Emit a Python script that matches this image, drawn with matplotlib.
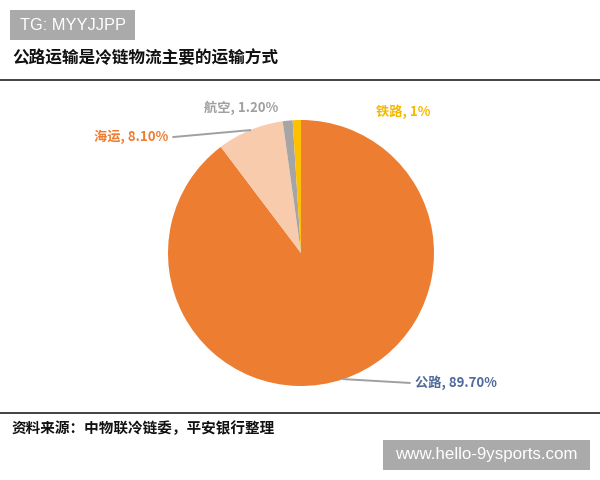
import matplotlib.pyplot as plt
from matplotlib.patches import Rectangle
import numpy as np

plt.rcParams['font.family'] = ['Noto Sans CJK SC', 'DejaVu Sans']

categories = ['公路', '海运', '航空', '铁路']
shares = [89.7, 8.1, 1.2, 1.0]
share_labels = ['89.70%', '8.10%', '1.20%', '1%']
colors = ['#ED7D31', '#F8CBAD', '#A5A5A5', '#FFC000']
label_colors = ['#4E6A9A', '#ED7D31', '#A0A0A0', '#F5B800']

W, H = 600, 480
fig = plt.figure(figsize=(6, 4.8), dpi=100)
fig.patch.set_facecolor('white')


def px_box(x0, y0, x1, y1, text, size):
    fig.add_artist(Rectangle((x0 / W, 1 - y1 / H), (x1 - x0) / W, (y1 - y0) / H,
                             transform=fig.transFigure, fc='#AAAAAA', ec='none'))
    fig.text((x0 + x1) / 2 / W, 1 - (y0 + y1) / 2 / H, text, fontsize=size, color='white',
             family='Liberation Sans', ha='center', va='center')


# header / footer
px_box(10, 10, 135, 40, 'TG: MYYJJPP', 11.8)
fig.text(0.02, 0.88, '公路运输是冷链物流主要的运输方式', fontsize=12, fontweight='bold',
         va='center', ha='left', color='#111111')
fig.add_artist(plt.Line2D([0, 1], [1 - 80 / H] * 2, color='#333333', lw=1.3))
fig.add_artist(plt.Line2D([0, 1], [1 - 413 / H] * 2, color='#333333', lw=1.3))
fig.text(0.02, 1 - 428 / H, '资料来源：中物联冷链委，平安银行整理', fontsize=10.5,
         fontweight='bold', va='center', ha='left', color='#111111')
px_box(383, 440, 590, 470, 'www.hello-9ysports.com', 12.2)

# pie
ax = fig.add_axes([(301 - 133) / W, (H - 253 - 133) / H, 266 / W, 266 / H])
wedges, _ = ax.pie(shares, colors=colors, startangle=90, counterclock=False,
                   wedgeprops=dict(linewidth=0))
ax.set_xlim(-1, 1)
ax.set_ylim(-1, 1)
ax.set_aspect('equal')
ax.axis('off')

text_pos = [(0.857, -0.977, 'left'), (-1.0, 0.872, 'right'),
            (-0.447, 1.09, 'center'), (0.564, 1.06, 'left')]
for w, cat, lab, lc, (tx, ty, ha) in zip(wedges, categories, share_labels, label_colors, text_pos):
    mid = np.deg2rad((w.theta1 + w.theta2) / 2)
    txt = f'{cat}, {lab}'
    if cat in ('公路', '海运'):
        ex, ey = np.cos(mid), np.sin(mid)
        lx = tx - 0.04 if ha == 'left' else tx + 0.04
        ax.plot([ex, lx], [ey, ty], color='#A0A0A0', lw=1.4, clip_on=False)
    ax.text(tx, ty, txt, color=lc, fontsize=9.5, fontweight='bold', ha=ha, va='center',
            clip_on=False)

fig.savefig('out.png', dpi=100, facecolor='white')
